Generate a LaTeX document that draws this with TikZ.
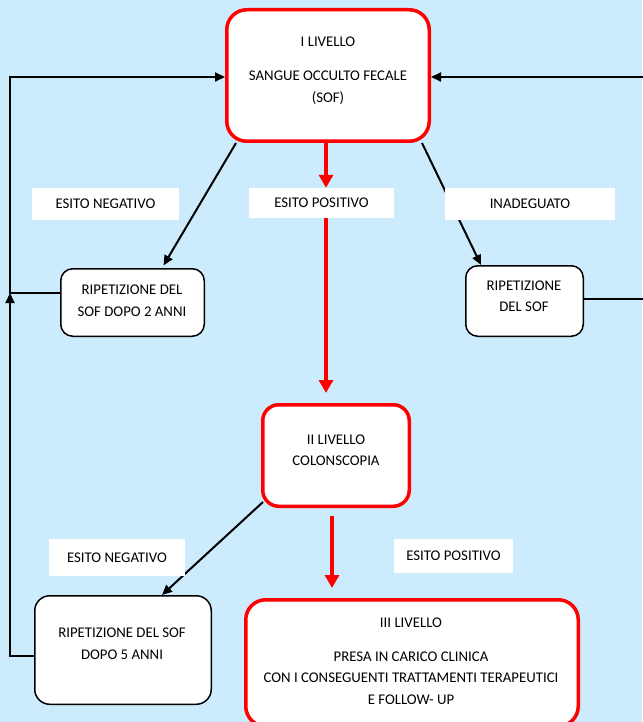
\documentclass[tikz,border=0pt]{standalone}
\usepackage{fontspec}
\setmainfont{Carlito}
\usetikzlibrary{arrows.meta}
\definecolor{bgblue}{RGB}{204,235,252}
\definecolor{pured}{RGB}{255,0,0}
\pgfdeclarelayer{bg}
\pgfdeclarelayer{edges}
\pgfsetlayers{bg,edges,main}
\begin{document}
\begin{tikzpicture}[x=1pt,y=-1pt,
  txt/.style={font=\fontsize{14.8pt}{21.5pt}\selectfont, align=center, inner sep=0pt},
  redbox/.style={draw=pured, line width=3.5pt, fill=white, rounded corners=20pt, inner sep=0pt},
  blkbox/.style={draw=black, line width=1.5pt, fill=white, rounded corners=12pt, inner sep=0pt},
  lbl/.style={fill=white, inner sep=0pt, font=\fontsize{14.8pt}{21.5pt}\selectfont},
  redarr/.style={draw=pured, line width=4pt, -{Triangle[length=13pt,width=14pt]}, pured},
  blkarr/.style={draw=black, line width=2pt, -{Triangle[length=10pt,width=9pt]}}
]
\useasboundingbox (0,0) rectangle (642,722);
\clip (0,0) rectangle (642,722);
\begin{pgfonlayer}{bg}
\fill[bgblue] (0,0) rectangle (642,722);
\end{pgfonlayer}

% boxes
\node[redbox, minimum width=202.5pt, minimum height=131.5pt] (box1) at (328,75.5) {};
\node[blkbox, minimum width=143.5pt, minimum height=67.5pt] (rep2) at (132.5,302.5) {};
\node[blkbox, minimum width=117.5pt, minimum height=70.5pt] (repR) at (524.5,301) {};
\node[redbox, rounded corners=16pt, minimum width=146.5pt, minimum height=101.5pt] (box2) at (336,455.5) {};
\node[blkbox, rounded corners=15pt, minimum width=176.5pt, minimum height=108.5pt] (rep5) at (123,650) {};
\node[redbox, minimum width=332.5pt, minimum height=126.5pt] (box3) at (412,663) {};

% texts in boxes
\node[txt] (t1a) at (328,42) {I LIVELLO};
\node[txt] (t1b) at (328,87.5) {SANGUE OCCULTO FECALE\\(SOF)};
\node[txt] (t2) at (132,300.5) {RIPETIZIONE DEL\\SOF DOPO 2 ANNI};
\node[txt] (tR) at (524,296) {RIPETIZIONE\\DEL SOF};
\node[txt] (t3) at (336,450) {II LIVELLO\\COLONSCOPIA};
\node[txt] (t5) at (122,643.5) {RIPETIZIONE DEL SOF\\DOPO 5 ANNI};
\node[txt] (t6a) at (411,623) {III LIVELLO};
\node[txt] (t6b) at (411,678) {PRESA IN CARICO CLINICA\\CON I CONSEGUENTI TRATTAMENTI TERAPEUTICI\\E FOLLOW- UP};

% labels
\node[lbl, minimum width=147pt, minimum height=32pt] (lnA) at (105.5,204) {ESITO NEGATIVO};
\node[lbl, minimum width=145pt, minimum height=30pt] (lpA) at (321.5,203) {ESITO POSITIVO};
\node[lbl, minimum width=170pt, minimum height=32pt] (liA) at (530,204) {INADEGUATO};
\node[lbl, minimum width=136pt, minimum height=37pt] (lnB) at (117,557.5) {ESITO NEGATIVO};
\node[lbl, minimum width=119pt, minimum height=34pt] (lpB) at (453.5,556) {ESITO POSITIVO};

% helper coordinates
\coordinate (ra) at (326,0);
\coordinate (rb) at (332,0);
\coordinate (lx) at (10,0);
\coordinate (rx) at (660,0);
\coordinate (c1) at ([yshift=-1.5pt]box1.west);
\coordinate (c1b) at ([yshift=-1.5pt]box1.east);
\coordinate (c2) at ([yshift=9.5pt]rep2.west);
\coordinate (c5) at ([yshift=-6pt]rep5.west);
\coordinate (cR) at ([yshift=2pt]repR.east);

\begin{pgfonlayer}{edges}
% red arrows
\draw[redarr] (box1.south -| ra) -- (lpA.north -| ra);
\draw[redarr, shorten >=10pt] (lpA.south -| ra) -- (box2.north -| ra);
\draw[redarr, shorten <=8pt, shorten >=10pt] (box2.south -| rb) -- (box3.north -| rb);
% black arrows
\draw[blkarr, shorten >=3pt] ([xshift=11pt]box1.south west) -- ([xshift=102pt]rep2.north west);
\draw[blkarr] ([xshift=-9pt]box1.south east) -- ([xshift=16pt]repR.north west);
\draw[blkarr] ([xshift=2pt,yshift=6pt]box2.south west) -- ([xshift=128pt]rep5.north west);
% loops
\draw[blkarr] (c2) -- (c2 -| lx) |- (c1);
\draw[blkarr] (c5) -- (c5 -| lx) -- (c2 -| lx);
\draw[blkarr] (cR) -- (cR -| rx) |- (c1b);
\end{pgfonlayer}
\end{tikzpicture}
\end{document}
